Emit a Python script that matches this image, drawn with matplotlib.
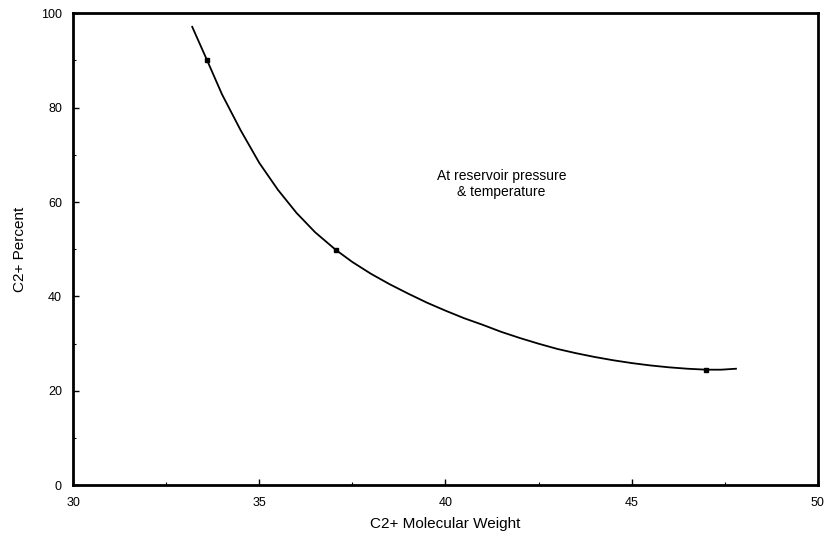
import matplotlib.pyplot as plt
from matplotlib.ticker import MultipleLocator

plt.rcParams['font.family'] = ['Liberation Sans', 'DejaVu Sans']

# Curve
curve_mw = [33.2, 33.6, 34.0, 34.5, 35.0, 35.5, 36.0, 36.5, 37.05, 37.5, 38.0,
            38.5, 39.0, 39.5, 40.0, 40.5, 41.0, 41.5, 42.0, 42.5, 43.0, 43.5,
            44.0, 44.5, 45.0, 45.5, 46.0, 46.5, 47.0, 47.4, 47.8]
curve_pct = [97.1, 90.0, 82.8, 75.2, 68.3, 62.6, 57.7, 53.6, 49.9, 47.3, 44.8,
             42.6, 40.6, 38.7, 37.0, 35.4, 34.0, 32.5, 31.2, 30.0, 28.9, 28.0,
             27.2, 26.5, 25.9, 25.4, 25.0, 24.7, 24.5, 24.5, 24.7]

# Measured points
point_mw = [33.6, 37.05, 47.0]
point_pct = [90.0, 49.9, 24.5]

fig = plt.figure(figsize=(8.27, 5.46), dpi=100)
ax = fig.add_axes([0.0883, 0.111, 0.9007, 0.865])

ax.plot(curve_mw, curve_pct, '-', color='black', linewidth=1.3)
ax.plot(point_mw, point_pct, 's', color='black', markersize=3.5)

ax.set_xlim(30, 50)
ax.set_ylim(0, 100)
ax.xaxis.set_major_locator(MultipleLocator(5))
ax.xaxis.set_minor_locator(MultipleLocator(2.5))
ax.yaxis.set_major_locator(MultipleLocator(20))
ax.yaxis.set_minor_locator(MultipleLocator(10))
ax.tick_params(which='major', direction='in', length=4, width=1, labelsize=9, pad=8)
ax.tick_params(which='minor', direction='in', length=2, width=0.8)
for s in ax.spines.values():
    s.set_linewidth(2)

ax.set_xlabel('C2+ Molecular Weight', fontsize=11, labelpad=6)
ax.set_ylabel('C2+ Percent', fontsize=11, labelpad=10)

ax.text(41.5, 63.8, 'At reservoir pressure\n& temperature', ha='center', va='center',
        fontsize=10, linespacing=1.2)

fig.savefig('out.png', dpi=100)
